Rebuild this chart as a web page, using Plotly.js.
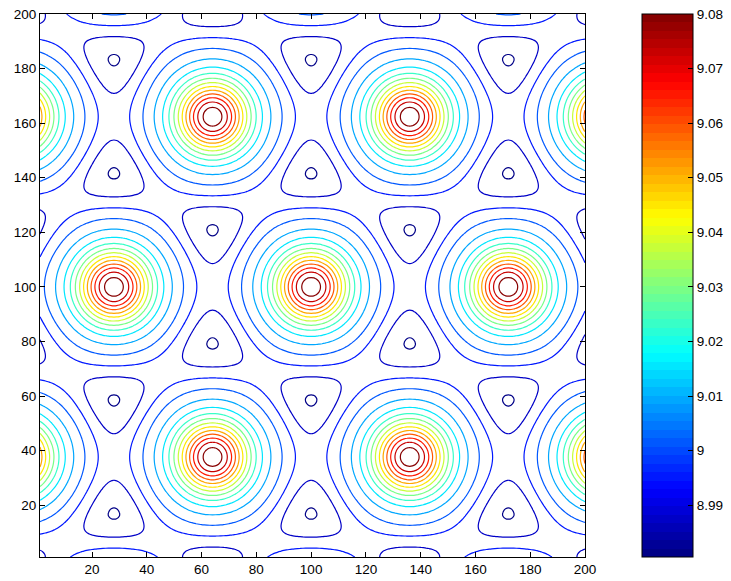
<!DOCTYPE html>
<html><head><meta charset="utf-8">
<script src="https://cdn.plot.ly/plotly-3.0.1.min.js"></script>
<style>html,body{margin:0;padding:0;background:#fff}#chart{width:731px;height:581px}</style>
</head><body><div id="chart"></div>
<script>
// ---- values ----
const xTicks = [20, 40, 60, 80, 100, 120, 140, 160, 180, 200];
const yTicks = [20, 40, 60, 80, 100, 120, 140, 160, 180, 200];
const cbTickVals = [8.99, 9.00, 9.01, 9.02, 9.03, 9.04, 9.05, 9.06, 9.07, 9.08];
const cbTickText = ['8.99', '9', '9.01', '9.02', '9.03', '9.04', '9.05', '9.06', '9.07', '9.08'];
const axisRange = [1, 200];
const peakCentresX = [28, 100, 172];      // maxima on the middle row
const peakRowsY = [37.65, 100, 162.35];   // rows of maxima
const zRange = [8.9805, 9.0800];          // colour range (min / max of field)
const levelStart = 8.9809;                // lowest contour level
const levelStep = 0.00672;                // contour spacing
const levelCount = 15;
const profileCentre = 0.35;               // flattest part of the profile
const profileSharpness = 3.55;            // steepness near maxima / minima

// ---- field on the 200 x 200 grid ----
const gridX = [], gridY = [];
for (let i = axisRange[0]; i <= axisRange[1]; i++) { gridX.push(i); gridY.push(i); }
const a = peakCentresX[1] - peakCentresX[0];
const x0 = peakCentresX[1], y0 = peakRowsY[1];
const kk = 4 * Math.PI / (a * Math.sqrt(3));
const kv = [[0, kk], [2 * Math.PI / a, -2 * Math.PI / (a * Math.sqrt(3))], [-2 * Math.PI / a, -2 * Math.PI / (a * Math.sqrt(3))]];
const sfun = w => w + profileSharpness * w * w * w;
const s0 = sfun(-profileCentre), s1 = sfun(1 - profileCentre);
const Z = gridY.map(y => gridX.map(x => {
  let f = 0;
  for (const k of kv) f += Math.cos(k[0] * (x - x0) + k[1] * (y - y0));
  const u = (f + 1.5) / 4.5;
  const h = (sfun(u - profileCentre) - s0) / (s1 - s0);
  return zRange[0] + (zRange[1] - zRange[0]) * h;
}));

// ---- MATLAB-like jet(64) colour scale ----
function jet(t) {
  const c = v => Math.round(255 * Math.max(0, Math.min(1, v)));
  return 'rgb(' + c(1.5 - Math.abs(4 * t - 3)) + ',' + c(1.5 - Math.abs(4 * t - 2)) + ',' + c(1.5 - Math.abs(4 * t - 1)) + ')';
}
const jetScale = [];
const nBands = 64;
for (let i = 0; i < nBands; i++) {
  const col = jet((i + 0.5) / nBands);
  jetScale.push([i / nBands, col]);
  jetScale.push([(i + 1) / nBands, col]);
}

const font = {family: 'Liberation Sans, Arial, sans-serif', size: 13.5, color: '#000'};
const axisCommon = {
  range: axisRange, showgrid: false, zeroline: false, showline: true, linecolor: '#000', linewidth: 1,
  mirror: 'allticks', ticks: 'inside', ticklen: 5, tickcolor: '#000', tickfont: font
};

const traces = [
  {
    type: 'contour', x: gridX, y: gridY, z: Z,
    zauto: false, zmin: zRange[0], zmax: zRange[1],
    colorscale: jetScale, showscale: false, autocontour: false,
    contours: {coloring: 'lines', start: levelStart, end: levelStart + levelStep * (levelCount - 0.5), size: levelStep},
    line: {width: 1.2, smoothing: 1.3}, hoverinfo: 'skip'
  },
  {
    type: 'scatter', mode: 'markers', x: [-50, -50], y: [-50, -50], hoverinfo: 'skip',
    marker: {
      color: zRange, cmin: zRange[0], cmax: zRange[1], colorscale: jetScale, showscale: true, opacity: 0,
      colorbar: {
        x: (642 - 40) / 545, xanchor: 'left', y: 0, yanchor: 'bottom',
        thickness: 51, thicknessmode: 'pixels', len: 1, lenmode: 'fraction', xpad: 0, ypad: 0,
        outlinewidth: 1, outlinecolor: '#000', ticks: 'inside', ticklen: 5, tickcolor: '#000',
        tickvals: cbTickVals, ticktext: cbTickText, tickfont: font
      }
    },
    showlegend: false
  }
];

const layout = {
  width: 731, height: 581, paper_bgcolor: '#fff', plot_bgcolor: '#fff',
  margin: {l: 40, r: 146, t: 14, b: 24, autoexpand: false},
  xaxis: Object.assign({}, axisCommon, {tickvals: xTicks}),
  yaxis: Object.assign({}, axisCommon, {tickvals: yTicks}),
  showlegend: false
};
Plotly.newPlot('chart', traces, layout, {displayModeBar: false, staticPlot: true});
</script></body></html>
